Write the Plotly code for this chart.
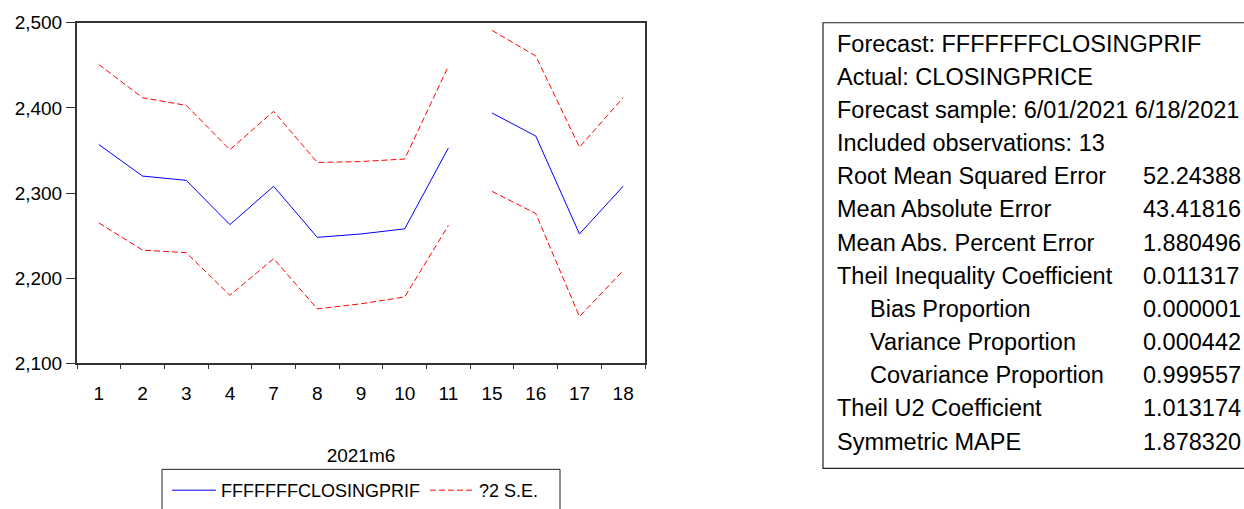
import plotly.graph_objects as go

# ---- data ----
days = [1, 2, 3, 4, 7, 8, 9, 10, 11, 15, 16, 17, 18]
forecast = [2357, 2320, 2315, 2263, 2308, 2248, 2252, 2258, 2353, 2394, 2367, 2252, 2308]
upper_2se = [2451, 2412, 2403, 2351, 2396, 2336, 2337, 2340, 2449, 2491, 2461, 2354, 2412]
lower_2se = [2265, 2233, 2230, 2180, 2223, 2164, 2170, 2178, 2262, 2302, 2276, 2155, 2209]
break_after_day = 11  # the line is broken between 11 and 15

x_title = "2021m6"
series_name = "FFFFFFFCLOSINGPRIF"
se_name = "?2 S.E."

stat_labels = [
    "Forecast: FFFFFFFCLOSINGPRIF",
    "Actual: CLOSINGPRICE",
    "Forecast sample: 6/01/2021 6/18/2021",
    "Included observations: 13",
    "Root Mean Squared Error",
    "Mean Absolute Error",
    "Mean Abs. Percent Error",
    "Theil Inequality Coefficient",
    "Bias Proportion",
    "Variance Proportion",
    "Covariance Proportion",
    "Theil U2 Coefficient",
    "Symmetric MAPE",
]
stat_values = ["", "", "", "", "52.24388", "43.41816", "1.880496", "0.011317",
               "0.000001", "0.000442", "0.999557", "1.013174", "1.878320"]
stat_indent = [False] * 8 + [True, True, True] + [False, False]

FONT = "Arial, Liberation Sans, sans-serif"
W, H = 1244, 509


def px(x):
    return x / W


def py(y):
    return (H - y) / H


def with_break(vals):
    xs, ys = [], []
    for i, (d, v) in enumerate(zip(days, vals)):
        xs.append(i)
        ys.append(v)
        if d == break_after_day:
            xs.append(i + 0.5)
            ys.append(None)
    return xs, ys


fig = go.Figure()
xf, yf = with_break(forecast)
fig.add_trace(go.Scatter(x=xf, y=yf, mode="lines", name=series_name,
                         line=dict(color="#0000FF", width=1), connectgaps=False))
xu, yu = with_break(upper_2se)
fig.add_trace(go.Scatter(x=xu, y=yu, mode="lines", name=se_name, legendgroup="se",
                         line=dict(color="#FF0000", width=1, dash="6px,3px"),
                         connectgaps=False))
xl, yl = with_break(lower_2se)
fig.add_trace(go.Scatter(x=xl, y=yl, mode="lines", name=se_name, legendgroup="se",
                         showlegend=False,
                         line=dict(color="#FF0000", width=1, dash="6px,3px"),
                         connectgaps=False))

# plot box in window pixels
bx0, bx1, by_top, by_bot = 77, 645, 23, 367

fig.update_layout(
    width=W, height=H,
    margin=dict(l=0, r=0, t=0, b=0),
    paper_bgcolor="white", plot_bgcolor="white",
    font=dict(family=FONT, color="black"),
    showlegend=True,
    legend=dict(
        orientation="h", x=px(167), y=py(477), xanchor="left", yanchor="top",
        borderwidth=0, font=dict(size=18, family=FONT),
        bgcolor="rgba(0,0,0,0)", itemwidth=44,
    ),
    xaxis=dict(
        domain=[px(bx0), px(bx1)],
        range=[-0.5, len(days) - 0.5],
        tickmode="array", tickvals=list(range(len(days))),
        ticktext=[str(d) for d in days],
        ticks="", showgrid=False, zeroline=False,
        showline=True, linecolor="#333", linewidth=1.5, mirror=True,
        tickfont=dict(size=19, family=FONT),
        ticklabelstandoff=12,
        minor=dict(tick0=-0.5, dtick=1, ticks="outside", ticklen=4,
                   tickcolor="#333", tickwidth=1, showgrid=False),
        title=dict(text=x_title, font=dict(size=19, family=FONT), standoff=46),
        automargin=False, fixedrange=True,
    ),
    yaxis=dict(
        domain=[py(by_bot), py(by_top)],
        range=[2100, 2500], tickmode="linear", tick0=2100, dtick=100,
        tickformat=",", ticks="outside", ticklen=9, tickcolor="#333",
        showgrid=False, zeroline=False,
        showline=True, linecolor="#333", linewidth=2, mirror=True,
        tickfont=dict(size=19, family=FONT),
        automargin=False, fixedrange=True,
    ),
)

# legend frame (runs past the bottom edge as in the reference)
fig.add_shape(type="rect", xref="paper", yref="paper",
              x0=px(162), x1=px(560), y0=-0.1, y1=py(474),
              line=dict(color="#222", width=1), fillcolor="rgba(0,0,0,0)", layer="below")

# statistics box
fig.add_shape(type="rect", xref="paper", yref="paper",
              x0=px(823), x1=1.02, y0=py(473), y1=py(23),
              line=dict(color="#222", width=1.2), fillcolor="rgba(0,0,0,0)")

row0, row_gap = 44, 33.5
for i, (lab, val, ind) in enumerate(zip(stat_labels, stat_values, stat_indent)):
    yc = row0 + i * row_gap
    fig.add_annotation(xref="paper", yref="paper", x=px((870 if ind else 837) - 2),
                       y=py(yc), xanchor="left", yanchor="middle",
                       text=lab, showarrow=False,
                       font=dict(size=23.5, family=FONT, color="black"))
    if val:
        fig.add_annotation(xref="paper", yref="paper", x=px(1143 - 2),
                           y=py(yc), xanchor="left", yanchor="middle",
                           text=val, showarrow=False,
                           font=dict(size=23.5, family=FONT, color="black"))

fig.write_html(
    "out.html",
    config={"displayModeBar": False},
    post_script="document.body.style.margin='0';document.body.style.overflow='hidden';",
)
